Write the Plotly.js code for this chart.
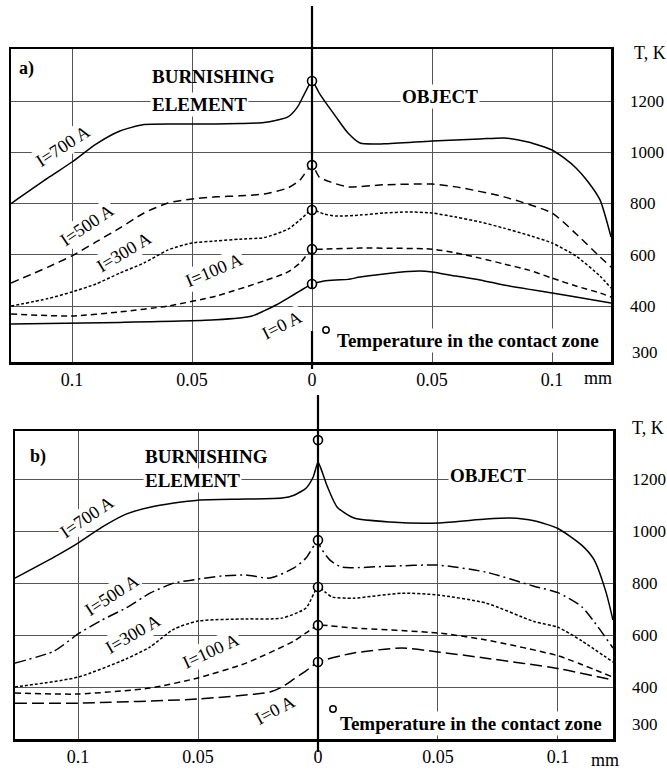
<!DOCTYPE html>
<html><head><meta charset="utf-8">
<script src="https://cdn.plot.ly/plotly-3.0.1.min.js"></script>
<style>html,body{margin:0;padding:0;background:#fff}#chart{width:667px;height:774px}</style>
</head><body><div id="chart"></div>
<script>
// ---------- DATA (distance in mm: negative = burnishing element, positive = object; T in K) ----------
const currents = ['I=700 A', 'I=500 A', 'I=300 A', 'I=100 A', 'I=0 A'];

// Panel a)
const a700x = [-0.1254,-0.11,-0.1,-0.09,-0.08,-0.07,-0.05,-0.03,-0.02,-0.01,-0.006,-0.003,0,0.003,0.006,0.01,0.015,0.02,0.03,0.05,0.07,0.08,0.09,0.1,0.105,0.11,0.115,0.12,0.1246];
const a700T = [800,900,962,1032,1083,1108,1110,1112,1116,1138,1177,1231,1278,1231,1190,1138,1075,1036,1033,1044,1052,1056,1040,1009,978,939,885,814,669];
const a500x = [-0.1254,-0.11,-0.1,-0.09,-0.08,-0.07,-0.06,-0.05,-0.04,-0.03,-0.02,-0.01,-0.005,0,0.003,0.008,0.015,0.03,0.05,0.06,0.08,0.1,0.11,0.12,0.1246];
const a500T = [490,552,596,650,705,763,802,818,826,830,837,861,892,950,903,883,865,873,876,865,826,763,682,592,552];
const a300x = [-0.1254,-0.11,-0.1,-0.09,-0.08,-0.07,-0.06,-0.05,-0.04,-0.03,-0.02,-0.01,-0.005,0,0.005,0.01,0.02,0.03,0.04,0.05,0.06,0.07,0.08,0.09,0.1,0.11,0.12,0.1246];
const a300T = [400,429,455,486,529,568,619,646,654,661,667,700,736,775,759,751,755,763,767,763,747,728,704,677,646,595,517,470];
const a100x = [-0.1254,-0.1,-0.08,-0.06,-0.04,-0.02,-0.01,-0.005,0,0.005,0.02,0.05,0.06,0.07,0.08,0.09,0.1,0.11,0.12,0.1246];
const a100T = [369,361,377,400,439,498,533,568,619,622,626,622,607,587,564,541,509,478,451,435];
const a0x = [-0.1254,-0.08,-0.04,-0.025,-0.02,-0.015,-0.01,-0.005,0,0.005,0.01,0.015,0.02,0.03,0.04,0.045,0.05,0.06,0.07,0.08,0.09,0.1,0.11,0.1246];
const a0T = [330,336,346,361,381,404,431,459,486,498,502,504,513,525,535,537,533,517,502,482,466,451,435,412];
const aContactT = [1278, 950, 775, 622, 486];

// Panel b)
const b700x = [-0.1263,-0.11,-0.1,-0.09,-0.08,-0.07,-0.06,-0.05,-0.03,-0.015,-0.01,-0.005,-0.002,0,0.001,0.004,0.008,0.015,0.03,0.05,0.07,0.08,0.09,0.1,0.11,0.115,0.12,0.1229];
const b700T = [819,900,954,1015,1065,1092,1108,1119,1123,1127,1138,1165,1208,1265,1246,1169,1092,1050,1035,1031,1046,1050,1040,1010,945,890,765,658];
const b500x = [-0.1263,-0.11,-0.1,-0.09,-0.08,-0.07,-0.06,-0.05,-0.04,-0.03,-0.02,-0.01,-0.005,0,0.001,0.005,0.01,0.03,0.05,0.07,0.09,0.1,0.11,0.1229];
const b500T = [492,538,604,658,704,761,800,815,827,831,819,858,896,965,938,888,861,865,869,842,788,763,708,550];
const b300x = [-0.1263,-0.1,-0.08,-0.07,-0.06,-0.05,-0.03,-0.015,-0.005,0,0.003,0.006,0.015,0.035,0.05,0.07,0.09,0.1,0.11,0.1229];
const b300T = [400,438,508,554,623,654,662,665,704,785,765,746,742,761,754,723,652,630,577,496];
const b100x = [-0.1263,-0.1,-0.07,-0.05,-0.03,-0.01,-0.005,0,0.002,0.015,0.05,0.07,0.1,0.1229];
const b100T = [377,373,396,435,492,577,608,638,638,627,608,581,520,438];
const b0x = [-0.1263,-0.1,-0.05,-0.02,-0.015,-0.01,-0.005,0,0.015,0.035,0.05,0.07,0.1,0.1229];
const b0T = [338,338,354,381,400,431,462,496,531,550,535,511,471,427];
const bContactT = [1350, 965, 785, 638, 496];

// Axis ticks
const distTickVals = [-0.1, -0.05, 0, 0.05, 0.1];
const distTickText = ['0.1', '0.05', '0', '0.05', '0.1'];
const tempTickVals = [400, 600, 800, 1000, 1200];
const tempTickText = ['400', '600', '800', '1000', '1200'];

// ---------- STYLE ----------
const W = 667, H = 774;
const SERIF = 'Liberation Serif, Times New Roman, serif';
const domA = {x: [11/W, 611/W], y: [1-362/H, 1-49/H]};
const domB = {x: [15/W, 613/W], y: [1-739/H, 1-431/H]};
const rngA = {x: [-0.12542, 0.12458], y: [181.6, 1403]};
const rngB = {x: [-0.12625, 0.12292], y: [200, 1385]};

const dashA = ['solid', '8px,5px', '3px,2px', '6px,4px', 'solid'];
const dashB = ['solid', '11px,4px,2px,4px', '3px,2px', '6px,4px', '12px,5px'];

const traces = [];
const setsA = [[a700x,a700T],[a500x,a500T],[a300x,a300T],[a100x,a100T],[a0x,a0T]];
const setsB = [[b700x,b700T],[b500x,b500T],[b300x,b300T],[b100x,b100T],[b0x,b0T]];
setsA.forEach((s, i) => traces.push({
  x: s[0], y: s[1], xaxis: 'x', yaxis: 'y', type: 'scatter', mode: 'lines', name: currents[i],
  showlegend: false, line: {color: '#000', width: 1.5, dash: dashA[i], shape: 'spline', smoothing: 0.6}
}));
setsB.forEach((s, i) => traces.push({
  x: s[0], y: s[1], xaxis: 'x2', yaxis: 'y2', type: 'scatter', mode: 'lines', name: currents[i],
  showlegend: false, line: {color: '#000', width: 1.5, dash: dashB[i], shape: 'spline', smoothing: 0.6}
}));
const markerStyle = {symbol: 'circle', size: 9, color: '#fff', line: {color: '#000', width: 1.6}};
traces.push({x: aContactT.map(() => 0), y: aContactT, xaxis: 'x', yaxis: 'y', mode: 'markers',
  marker: markerStyle, cliponaxis: false, showlegend: false, name: 'Temperature in the contact zone'});
traces.push({x: bContactT.map(() => 0), y: bContactT, xaxis: 'x2', yaxis: 'y2', mode: 'markers',
  marker: markerStyle, cliponaxis: false, showlegend: false, name: 'Temperature in the contact zone'});

function xAxis(dom, rng, anchor) {
  return {domain: dom.x, range: rng.x, anchor: anchor, tickmode: 'array', tickvals: distTickVals, ticktext: distTickText,
    showgrid: true, gridcolor: '#555', gridwidth: 1, zeroline: false, showline: true, mirror: true,
    linecolor: '#000', linewidth: 2.5, ticks: '', ticklabelstandoff: 0,
    tickfont: {family: SERIF, size: 18, color: '#000'}, fixedrange: true};
}
function yAxis(dom, rng, anchor) {
  return {domain: dom.y, range: rng.y, anchor: anchor, side: 'right', tickmode: 'array', tickvals: tempTickVals, ticktext: tempTickText,
    showgrid: true, gridcolor: '#555', gridwidth: 1, zeroline: false, showline: true, mirror: true,
    linecolor: '#000', linewidth: 2.5, ticks: '', ticklabelstandoff: 13,
    tickfont: {family: SERIF, size: 17, color: '#000'}, fixedrange: true};
}
function px2paperX(dom, rng, v) { return dom.x[0] + (v - rng.x[0]) / (rng.x[1] - rng.x[0]) * (dom.x[1] - dom.x[0]); }

const x0A = px2paperX(domA, rngA, 0), x0B = px2paperX(domB, rngB, 0);
const vline = (x, y0, y1) => ({type: 'line', xref: 'paper', yref: 'paper', x0: x, x1: x, y0: 1-y0/H, y1: 1-y1/H,
  line: {color: '#000', width: 2.2}, layer: 'above'});
const circ = (cx, cy, r) => ({type: 'circle', xref: 'paper', yref: 'paper', x0: (cx-r)/W, x1: (cx+r)/W, y0: 1-(cy+r)/H, y1: 1-(cy-r)/H,
  line: {color: '#000', width: 1.5}, fillcolor: '#fff', layer: 'above'});

const shapes = [
  vline(x0A, 6, 288), vline(x0A, 331, 369), vline(x0B, 395, 752),
  circ(326, 330, 3.2), circ(333, 709, 3.2)
];

const txt = (text, x, y, xref, yref, opts) => Object.assign({text: text, x: x, y: y, xref: xref, yref: yref,
  xanchor: 'center', yanchor: 'middle', showarrow: false, font: {family: SERIF, size: 18, color: '#000'}}, opts || {});
const B = {bgcolor: '#fff', borderpad: 1};
const BF = {family: SERIF, size: 19, color: '#000'};
const annotations = [
  // panel a
  txt('<b>a)</b>', -0.1188, 1325, 'x', 'y'),
  txt('<b>BURNISHING</b>', -0.0675, 1294, 'x', 'y', {xanchor: 'left', font: BF}),
  txt('<b>ELEMENT</b>', -0.0675, 1188, 'x', 'y', Object.assign({xanchor: 'left', font: BF}, B)),
  txt('<b>OBJECT</b>', 0.0367, 1216, 'x', 'y', Object.assign({xanchor: 'left', font: BF}, B)),
  txt(currents[0], -0.1037, 1024, 'x', 'y', Object.assign({textangle: -33}, B)),
  txt(currents[1], -0.0937, 716, 'x', 'y', Object.assign({textangle: -34}, B)),
  txt(currents[2], -0.0783, 611, 'x', 'y', Object.assign({textangle: -31}, B)),
  txt(currents[3], -0.0408, 541, 'x', 'y', Object.assign({textangle: -23}, B)),
  txt(currents[4], -0.0125, 326, 'x', 'y', Object.assign({textangle: -27}, B)),
  txt('<b>Temperature in the contact zone</b>', 335/W, 1-340/H, 'paper', 'paper', Object.assign({xanchor: 'left', font: BF}, B)),
  txt('mm', 598/W, 1-378/H, 'paper', 'paper'),
  txt('T, K', 632/W, 1-53/H, 'paper', 'paper', {xanchor: 'left'}),
  txt('300', 630/W, 1-352/H, 'paper', 'paper', {xanchor: 'left', font: {family: SERIF, size: 17, color: '#000'}}),
  // panel b
  txt('<b>b)</b>', -0.1167, 1285, 'x2', 'y2'),
  txt('<b>BURNISHING</b>', -0.0729, 1288, 'x2', 'y2', {xanchor: 'left', font: BF}),
  txt('<b>ELEMENT</b>', -0.0729, 1196, 'x2', 'y2', Object.assign({xanchor: 'left', font: BF}, B)),
  txt('<b>OBJECT</b>', 0.0542, 1215, 'x2', 'y2', Object.assign({xanchor: 'left', font: BF}, B)),
  txt(currents[0], -0.0962, 1054, 'x2', 'y2', Object.assign({textangle: -34}, B)),
  txt(currents[1], -0.0858, 754, 'x2', 'y2', Object.assign({textangle: -33}, B)),
  txt(currents[2], -0.0771, 604, 'x2', 'y2', Object.assign({textangle: -30}, B)),
  txt(currents[3], -0.0446, 538, 'x2', 'y2', Object.assign({textangle: -25}, B)),
  txt(currents[4], -0.0179, 312, 'x2', 'y2', Object.assign({textangle: -28}, B)),
  txt('<b>Temperature in the contact zone</b>', 338/W, 1-723/H, 'paper', 'paper', Object.assign({xanchor: 'left', font: BF}, B)),
  txt('mm', 605/W, 1-760/H, 'paper', 'paper'),
  txt('T, K', 630/W, 1-428/H, 'paper', 'paper', {xanchor: 'left'}),
  txt('300', 630/W, 1-724/H, 'paper', 'paper', {xanchor: 'left', font: {family: SERIF, size: 17, color: '#000'}})
];

const layout = {
  width: W, height: H, margin: {l: 0, r: 0, t: 0, b: 0},
  paper_bgcolor: '#fff', plot_bgcolor: '#fff', showlegend: false,
  font: {family: SERIF, color: '#000'},
  xaxis: xAxis(domA, rngA, 'y'), yaxis: yAxis(domA, rngA, 'x'),
  xaxis2: xAxis(domB, rngB, 'y2'), yaxis2: yAxis(domB, rngB, 'x2'),
  shapes: shapes, annotations: annotations
};
Plotly.newPlot('chart', traces, layout, {displayModeBar: false, staticPlot: true});
</script></body></html>
